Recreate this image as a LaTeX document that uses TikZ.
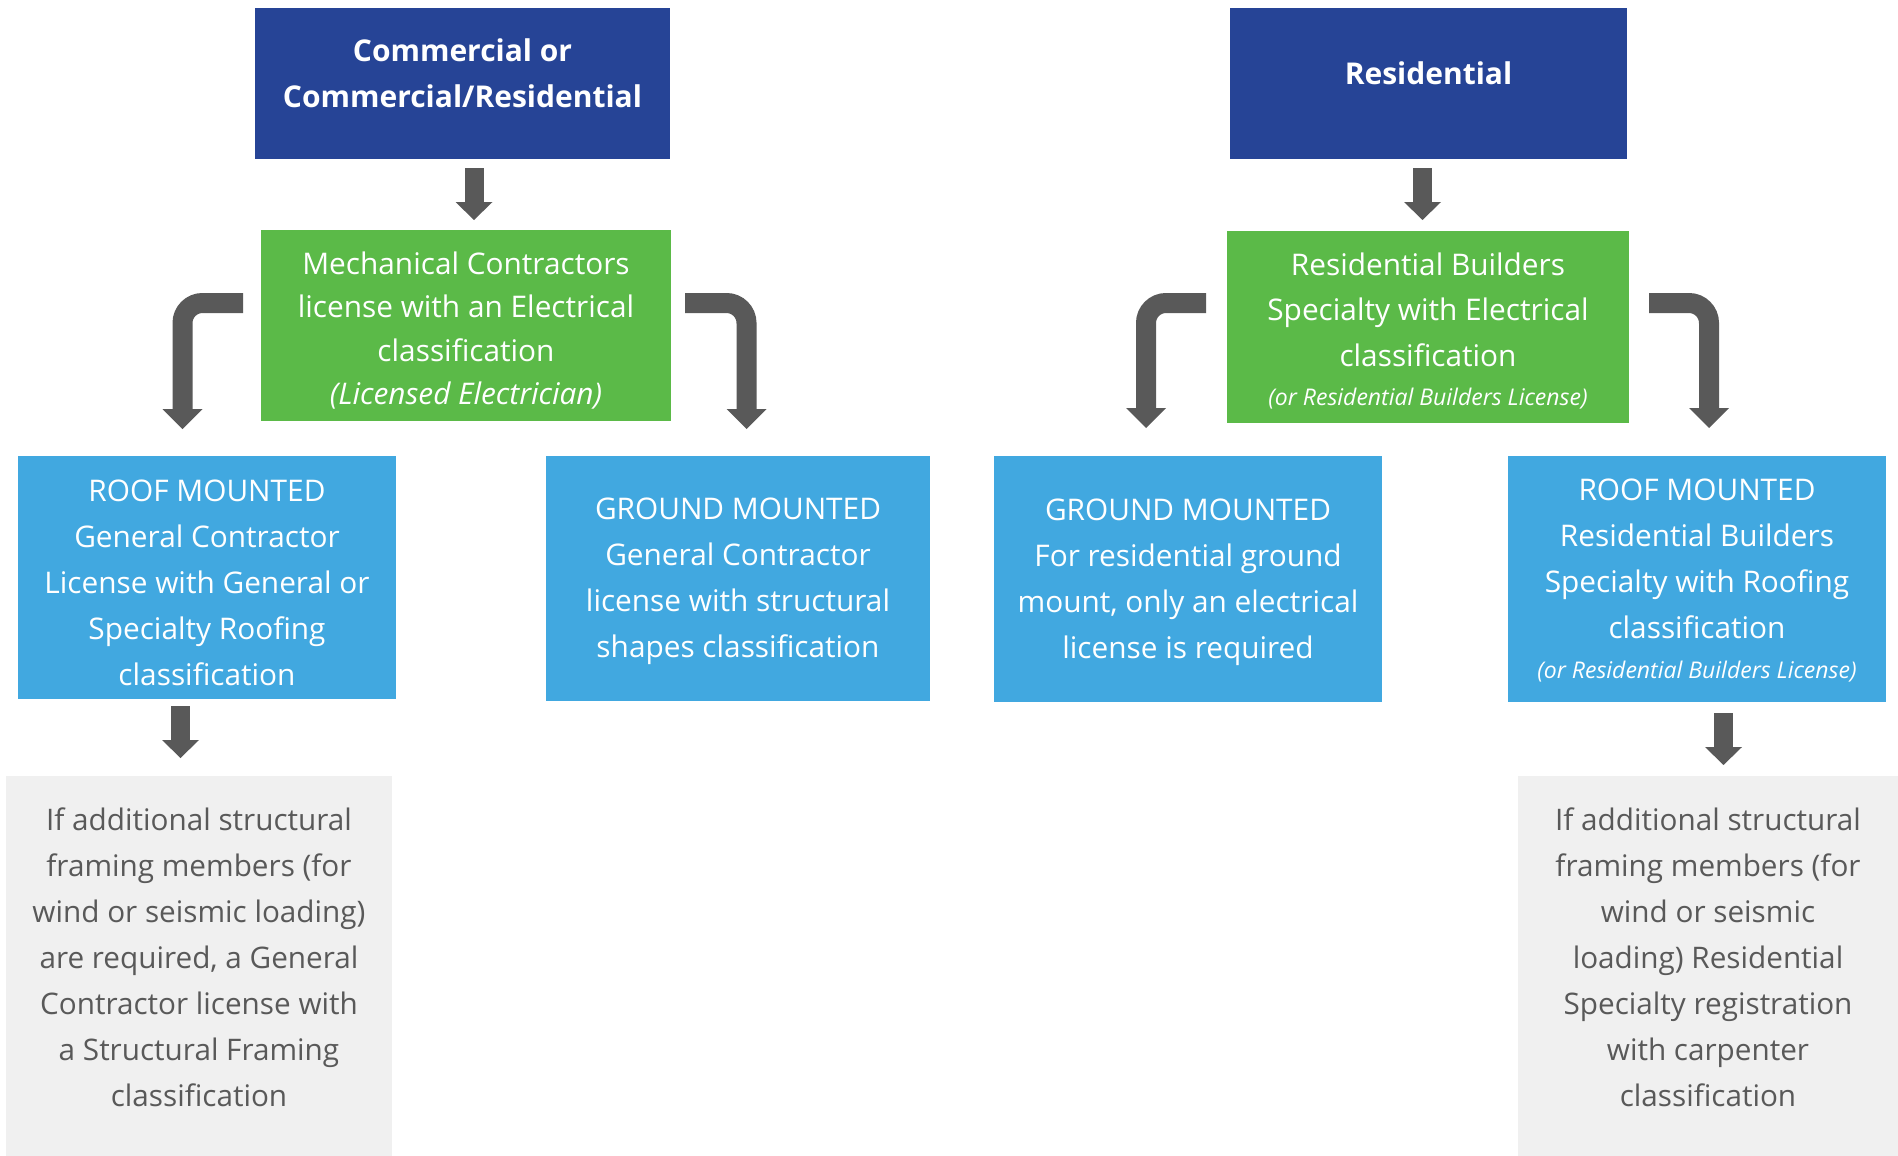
\documentclass[tikz,border=0pt]{standalone}
\usepackage{fontspec}
\setmainfont{Open Sans}
\usetikzlibrary{arrows.meta,calc}
\definecolor{hdrblue}{HTML}{264496}
\definecolor{grn}{HTML}{5BBA48}
\definecolor{ltblue}{HTML}{41A8E0}
\definecolor{gryfill}{HTML}{F0F0F0}
\definecolor{gtxt}{HTML}{595959}
\definecolor{arrgray}{HTML}{595959}
\begin{document}
\begin{tikzpicture}[x=1pt,y=-1pt,
  panel/.style={draw=none,inner sep=0pt,outer sep=0pt,anchor=center},
  hdrbox/.style={panel,fill=hdrblue},
  grnbox/.style={panel,fill=grn},
  bluebox/.style={panel,fill=ltblue},
  graybox/.style={panel,fill=gryfill},
  wtext/.style={text=white,align=center,inner sep=0pt,font=\fontsize{29.8}{46}\selectfont},
  htext/.style={text=white,align=center,inner sep=0pt,font=\fontsize{30}{46}\selectfont\bfseries},
  gtext/.style={text=gtxt,align=center,inner sep=0pt,font=\fontsize{29.7}{46}\selectfont},
  blk/.style={draw=arrgray,line cap=butt},
  straightarr/.style={blk,line width=19pt,-{Triangle[width=37pt,length=18pt,line width=0pt]}},
  bentarr/.style={blk,line width=20pt,rounded corners=20pt,-{Triangle[width=40pt,length=20pt,line width=0pt]}}
]
\useasboundingbox (0,0) rectangle (1898,1156);
\fill[white] (0,0) rectangle (1898,1156);

% boxes
\node[hdrbox,minimum width=415pt,minimum height=151pt] (h1) at (462.5,83.5) {};
\node[hdrbox,minimum width=397pt,minimum height=151pt] (h2) at (1428.5,83.5) {};
\node[grnbox,minimum width=410pt,minimum height=191pt] (g1) at (466,325.5) {};
\node[grnbox,minimum width=402pt,minimum height=192pt] (g2) at (1428,327) {};
\node[bluebox,minimum width=378pt,minimum height=243pt] (bA) at (207,577.5) {};
\node[bluebox,minimum width=384pt,minimum height=245pt] (bB) at (738,578.5) {};
\node[bluebox,minimum width=388pt,minimum height=246pt] (bC) at (1188,579) {};
\node[bluebox,minimum width=378pt,minimum height=246pt] (bD) at (1697,579) {};
\node[graybox,minimum width=386pt,minimum height=380pt] (gA) at (199,966) {};
\node[graybox,minimum width=380pt,minimum height=380pt] (gD) at (1708,966) {};

% texts
\node[htext] (h1t) at (462.5,73) {Commercial or\\Commercial/Residential};
\node[htext] (h2t) at (1428.5,73) {Residential};
\node[wtext,font=\fontsize{29.8}{43.5}\selectfont] (g1t) at (466,330.5) {Mechanical Contractors\\license with an Electrical\\classification\\\textit{(Licensed Electrician)}};
\node[wtext,font=\fontsize{29.8}{45.5}\selectfont] (g2t) at (1428,331) {Residential Builders\\Specialty with Electrical\\classification\\[-6pt]{\fontsize{23}{27}\selectfont\itshape (or Residential Builders License)}};
\node[wtext] (bAt) at (207,583) {ROOF MOUNTED\\General Contractor\\License with General or\\Specialty Roofing\\classification};
\node[wtext] (bBt) at (738,581.5) {GROUND MOUNTED\\General Contractor\\license with structural\\shapes classification};
\node[wtext] (bCt) at (1188,582) {GROUND MOUNTED\\For residential ground\\mount, only an electrical\\license is required};
\node[wtext] (bDt) at (1697,581) {ROOF MOUNTED\\Residential Builders\\Specialty with Roofing\\classification\\[-6pt]{\fontsize{23}{27}\selectfont\itshape (or Residential Builders License)}};
\node[gtext] (gAt) at (199,957.5) {If additional structural\\framing members (for\\wind or seismic loading)\\are required, a General\\Contractor license with\\a Structural Framing\\classification};
\node[gtext] (gDt) at (1708,957.5) {If additional structural\\framing members (for\\wind or seismic\\loading) Residential\\Specialty registration\\with carpenter\\classification};

% arrow endpoints
\coordinate (t1s) at (474,168);   \coordinate (t1e) at (474,220);
\coordinate (t2s) at (1422.5,168); \coordinate (t2e) at (1422.5,220);
\coordinate (l1s) at (243,303);   \coordinate (l1e) at (182.5,429);
\coordinate (r1s) at (685,303);   \coordinate (r1e) at (746.5,429);
\coordinate (l2s) at (1206,303);  \coordinate (l2e) at (1146,428);
\coordinate (r2s) at (1649,303);  \coordinate (r2e) at (1709,428);
\coordinate (dAs) at (180.5,706); \coordinate (dAe) at (180.5,758);
\coordinate (dDs) at (1723.5,713); \coordinate (dDe) at (1723.5,765);

\draw[straightarr] (t1s) -- (t1e);
\draw[straightarr] (t2s) -- (t2e);
\draw[bentarr] (l1s) -| (l1e);
\draw[bentarr] (r1s) -| (r1e);
\draw[bentarr] (l2s) -| (l2e);
\draw[bentarr] (r2s) -| (r2e);
\draw[straightarr] (dAs) -- (dAe);
\draw[straightarr] (dDs) -- (dDe);
\end{tikzpicture}
\end{document}
